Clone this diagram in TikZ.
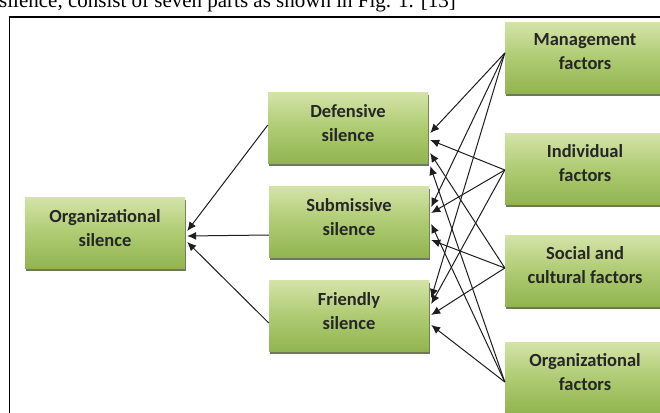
\documentclass[tikz,border=0pt]{standalone}
\usepackage{fontspec}
\setmainfont{Carlito}
\newfontfamily\serifref{Liberation Serif}
\usetikzlibrary{arrows.meta,calc,shadows}
\definecolor{gtop}{HTML}{D4E3A8}
\definecolor{gmid}{HTML}{AECB72}
\definecolor{gbot}{HTML}{92B450}
\definecolor{gshadow}{HTML}{55623A}
\definecolor{txt}{HTML}{262626}
\definecolor{arr}{HTML}{1E1E1E}
\tikzset{
  box/.style={rectangle, minimum width=160pt, minimum height=71pt, inner sep=0pt,
    top color=gtop, bottom color=gbot, middle color=gmid, draw=none,
    drop shadow={shadow xshift=1pt, shadow yshift=-2.5pt, fill=gshadow, opacity=0.85}},
  lbl/.style={align=center, text=txt, font=\bfseries\fontsize{18.5}{24}\selectfont, inner sep=0pt},
  conn/.style={draw=arr, line width=1pt, -{Latex[length=9pt,width=8pt]}}
}
\begin{document}
\begin{tikzpicture}[x=1pt,y=-1pt]
\useasboundingbox (0,0) rectangle (660,412);
\fill[white] (0,0) rectangle (660,412);
% caption fragment at the top (cut, as in the reference)
\node[anchor=base west, inner sep=0pt, font=\serifref\fontsize{21}{21}\selectfont] (cap) at (-1,8) {silence, consist of seven parts as shown in Fig. 1. [13]};
% frame
\draw[line width=1.3pt] (665,17) -| (9.5,420);
% boxes
\node[box] (orgs) at (105,233) {};
\node[box] (def) at (348,128) {};
\node[box] (sub) at (349,222) {};
\node[box] (fri) at (349,316) {};
\node[box] (mgmt) at (585,58) {};
\node[box] (ind) at (585,169) {};
\node[box] (soc) at (585,271) {};
\node[box] (orgf) at (585,378) {};
% labels
\node[lbl] (orgsT) at ($(orgs)+(0,-5)$) {Organizational\\silence};
\node[lbl] (defT) at ($(def)+(0,-5)$) {Defensive\\silence};
\node[lbl] (subT) at ($(sub)+(0,-5)$) {Submissive\\silence};
\node[lbl] (friT) at ($(fri)+(0,-5)$) {Friendly\\silence};
\node[lbl] (mgmtT) at ($(mgmt)+(0,-6)$) {Management\\factors};
\node[lbl] (indT) at ($(ind)+(0,-6)$) {Individual\\factors};
\node[lbl] (socT) at ($(soc)+(0,-6)$) {Social and\\cultural factors};
\node[lbl] (orgfT) at ($(orgf)+(0,-6)$) {Organizational\\factors};
% silences -> organizational silence
\draw[conn] ($(def.west)+(0,-3)$) -- ($(orgs.east)+(2,-2)$);
\draw[conn] ($(sub.west)+(0,13)$) -- ($(orgs.east)+(2,3)$);
\draw[conn] ($(fri.west)+(0,7)$) -- ($(orgs.east)+(2,9)$);
% factors -> silences
\draw[conn] ($(mgmt.west)+(0,-5)$) -- ($(def.east)+(2,5)$);
\draw[conn] ($(mgmt.west)+(0,-5)$) -- ($(sub.east)+(2,-15)$);
\draw[conn] ($(mgmt.west)+(0,-5)$) -- ($(fri.east)+(2,-18)$);
\draw[conn] ($(ind.west)+(0,1)$) -- ($(def.east)+(2,12)$);
\draw[conn] ($(ind.west)+(0,1)$) -- ($(sub.east)+(2,-9)$);
\draw[conn] ($(ind.west)+(0,1)$) -- ($(fri.east)+(2,-12)$);
\draw[conn] ($(soc.west)+(0,-3)$) -- ($(def.east)+(2,25)$);
\draw[conn] ($(soc.west)+(0,-3)$) -- ($(sub.east)+(2,18)$);
\draw[conn] ($(soc.west)+(0,-3)$) -- ($(fri.east)+(2,-1)$);
\draw[conn] ($(orgf.west)+(0,4)$) -- ($(def.east)+(2,38)$);
\draw[conn] ($(orgf.west)+(0,4)$) -- ($(sub.east)+(2,2)$);
\draw[conn] ($(orgf.west)+(0,4)$) -- ($(fri.east)+(2,9)$);
\end{tikzpicture}
\end{document}
